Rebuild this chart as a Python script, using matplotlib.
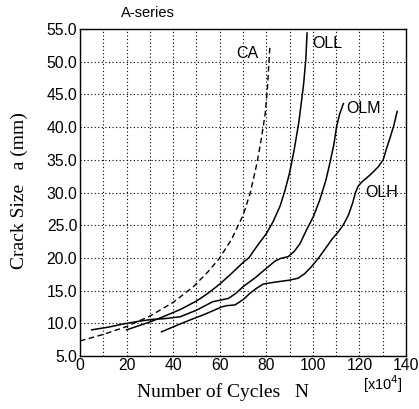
import matplotlib
matplotlib.use("Agg")

import matplotlib.pyplot as plt
from matplotlib.ticker import MultipleLocator, FormatStrFormatter

# crack growth curves, N in units of 10^4 cycles, a in mm
ca_n = [0, 10, 20, 30, 40, 48.7, 55, 60, 65, 70, 73, 76, 78, 79.5, 80.5, 81.3, 81.6]
ca_a = [7.3, 8.3, 9.5, 11.1, 13.2, 15.6, 17.9, 20.0, 22.8, 26.5, 29.8, 34.5, 38.5, 42.0, 46.0, 51.0, 52.6]

oll_n = [20, 25, 30, 35, 43, 50, 55, 60, 65, 70, 72.5, 76, 80, 83, 86, 88, 90,
         92, 94, 96, 97, 97.5]
oll_a = [9.0, 9.6, 10.2, 10.9, 12.1, 13.4, 14.6, 16.0, 17.6, 19.3, 20.0, 21.8,
         23.7, 25.6, 28.0, 30.3, 33.0, 36.6, 40.8, 46.5, 50.5, 54.4]

olm_n = [5, 12, 18.6, 25, 31, 36, 43, 50, 57, 63.7, 67, 70, 75, 80, 83.7, 86,
         89.4, 92, 94.5, 97.3, 100.2, 103, 105.6, 107.3, 109, 110.2, 111.5, 112.5, 113.1]
olm_a = [9.0, 9.4, 9.9, 10.3, 10.6, 10.7, 11.0, 12.0, 13.3, 13.8, 14.6, 15.6,
         16.9, 18.4, 19.5, 19.9, 20.2, 21.0, 22.2, 24.3, 26.3, 28.9, 31.9, 34.5,
         37.3, 40.1, 42.0, 43.0, 43.6]

olh_n = [35, 41, 47.2, 53, 57, 60.8, 63, 66.5, 70, 73, 76, 78.7, 82, 85.9, 90,
         93.7, 96.5, 99.5, 102.5, 105.9, 108.5, 110.5, 113, 115.2, 117, 118.3,
         119.5, 121, 123, 125.2, 128, 130.2, 131.7, 133.1, 134.8, 136.2]
olh_a = [8.7, 9.6, 10.5, 11.3, 11.9, 12.5, 12.7, 12.8, 13.6, 14.6, 15.4, 16.0,
         16.2, 16.4, 16.6, 16.9, 17.6, 18.7, 20.0, 21.7, 23.0, 23.8, 25.0, 26.5,
         28.3, 30.0, 31.0, 31.6, 32.2, 32.9, 33.9, 35.0, 36.8, 38.3, 40.3, 42.4]

curve_labels = ["CA", "OLL", "OLM", "OLH"]
label_pos = [(72, 51.3), (106, 52.8), (121.6, 42.9), (129.5, 30.0)]

sans = ["Liberation Sans", "DejaVu Sans"]
serif = ["Liberation Serif", "DejaVu Serif"]

fig = plt.figure(figsize=(4.19, 4.09), dpi=100)
ax = fig.add_axes([0.191, 0.1296, 0.778, 0.7994])

ax.plot(ca_n, ca_a, color="black", lw=1.0, linestyle=(0, (4, 2.5)))
ax.plot(oll_n, oll_a, color="black", lw=1.1)
ax.plot(olm_n, olm_a, color="black", lw=1.1)
ax.plot(olh_n, olh_a, color="black", lw=1.1)

for name, (xx, yy) in zip(curve_labels, label_pos):
    ax.text(xx, yy, name, ha="center", va="center", fontsize=11.5,
            family=sans, color="black")

ax.set_xlim(0, 140)
ax.set_ylim(5, 55)
ax.xaxis.set_major_locator(MultipleLocator(20))
ax.xaxis.set_minor_locator(MultipleLocator(10))
ax.yaxis.set_major_locator(MultipleLocator(5))
ax.yaxis.set_major_formatter(FormatStrFormatter("%.1f"))
ax.grid(which="both", color="black", linestyle=(0, (1, 2.2)), lw=0.8)
ax.tick_params(which="both", length=0)
ax.tick_params(axis="x", pad=1.5)
ax.tick_params(axis="y", pad=2)
for lab in ax.get_xticklabels() + ax.get_yticklabels():
    lab.set_family(sans)
    lab.set_fontsize(11.3)

for sp in ax.spines.values():
    sp.set_linewidth(1.0)

# axis titles placed as figure text so they sit where the scan has them
fig.text(0.532, 0.042, "Number of Cycles   N", ha="center", va="center",
         family=serif, fontsize=14)
fig.text(0.045, 0.535, "Crack Size   a (mm)", ha="center", va="center",
         rotation=90, family=serif, fontsize=14)

fig.text(0.352, 0.969, "A-series", ha="center", va="center", fontsize=10.5, family=sans)
fig.text(0.914, 0.060, "[x10$^4$]", ha="center", va="center", fontsize=10.5, family=sans)

fig.savefig("out.png", dpi=100)
